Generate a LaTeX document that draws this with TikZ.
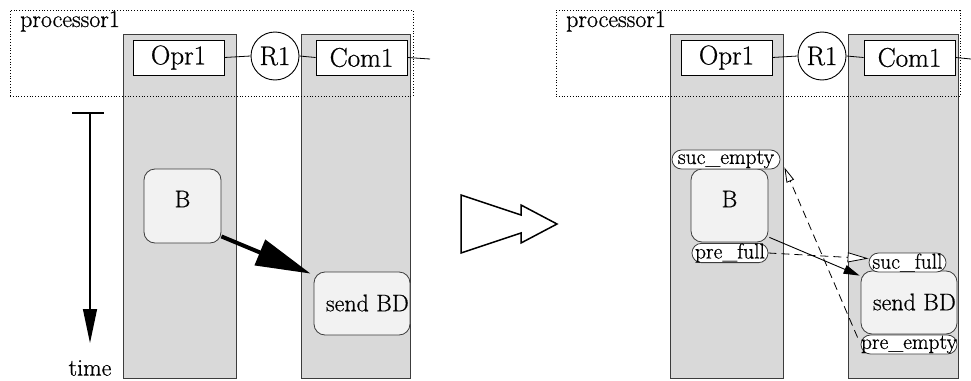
\documentclass[tikz,border=0pt]{standalone}
\usepackage{fontspec}
\newfontfamily\tms{Latin Modern Roman}[FakeBold=0.7]
\usetikzlibrary{arrows.meta,calc}
\definecolor{lanegray}{RGB}{217,217,217}
\definecolor{boxgray}{RGB}{242,242,242}
\definecolor{edgegray}{RGB}{60,60,60}
\begin{document}
\begin{tikzpicture}[x=1pt,y=-1pt,
  lane/.style={draw=edgegray, fill=lanegray, line width=0.9pt, minimum width=#1, minimum height=344pt, inner sep=0pt},
  unit/.style={draw, fill=white, line width=0.9pt, minimum width=91pt, minimum height=35pt, inner sep=0pt, font=\tms\fontsize{27}{28}\selectfont},
  reg/.style={draw, fill=white, circle, line width=0.9pt, minimum size=48pt, inner sep=0pt, font=\tms\fontsize{27}{28}\selectfont},
  proc/.style={draw, dotted, line width=0.8pt, minimum width=#1, minimum height=86pt, inner sep=0pt},
  task/.style={draw=edgegray, fill=boxgray, line width=0.8pt, rounded corners=11pt, inner sep=0pt},
  tag/.style={draw=edgegray, fill=white, line width=0.8pt, rounded corners=9.5pt, minimum height=19pt, inner sep=0pt, font=\tms\fontsize{21.5}{22}\selectfont},
  lbl/.style={inner sep=0pt, font=\tms\fontsize{24}{25}\selectfont},
  wire/.style={line width=0.8pt},
  dsh/.style={line width=0.8pt, dash pattern=on 8pt off 5pt}
]
\useasboundingbox (0,0) rectangle (971,380);

% ---------------- left panel ----------------
\node[lane=113pt] (lO) at (179.5,206) {};
\node[lane=109pt] (lC) at (355.5,206) {};
\node[proc=403pt] (P1) at (211.5,53) {};
\node[lbl, anchor=base west] (p1t) at (20,27) {processor1};
\node[unit] (O1) at (178.5,57.5) {Opr1};
\node[reg] (R1) at (275,56) {R1};
\node[unit] (C1) at (361.5,57.5) {Com1};
\coordinate (c1out) at (430,59);
\draw[wire] (O1.east) -- (R1.west);
\draw[wire] (R1.east) -- (C1.west);
\draw[wire] (C1.east) -- (c1out);

\node[task, minimum width=77pt, minimum height=74pt] (B1) at (182.5,206) {};
\node[lbl] at (182.5,199) {B};
\node[task, minimum width=96pt, minimum height=63pt] (S1) at (362,303.5) {};
\node[lbl, anchor=east] at (409,303) {send BD};
\draw[line width=4pt, -{Triangle[length=55pt,width=27pt]}]
  ($(B1.south east)+(0,-7)$) -- ($(S1.north west)+(-3,2)$);

\coordinate (ttop) at (90,113);
\coordinate (tbot) at (90,343);
\draw[line width=1.3pt] ($(ttop)+(-18,0)$) -- ($(ttop)+(14,0)$);
\draw[line width=1.3pt, -{Triangle[length=34pt,width=14pt]}] (ttop) -- (tbot);
\node[lbl] (time) at (90,368) {time};

% ---------------- transformation arrow ----------------
\draw[line width=1.5pt, line join=miter]
  (461,195) -- (521,215) -- (521,205) -- (557,224) -- (521,243) -- (521,233) -- (461,253) -- cycle;

% ---------------- right panel ----------------
\node[lane=113pt] (lO2) at (726.5,206) {};
\node[lane=110pt] (lC2) at (903,206) {};
\node[proc=404pt] (P2) at (758,53.5) {};
\node[lbl, anchor=base west] (p2t) at (566,27) {processor1};
\node[unit] (O2) at (726.5,57.5) {Opr1};
\node[reg] (R2) at (822,56) {R1};
\node[unit] (C2) at (909.5,57.5) {Com1};
\coordinate (c2out) at (971,59);
\draw[wire] (O2.east) -- (R2.west);
\draw[wire] (R2.east) -- (C2.west);
\draw[wire] (C2.east) -- (c2out);

\node[task, minimum width=77pt, minimum height=73pt] (B2) at (729.5,205.5) {};
\node[lbl] at (729.5,199) {B};
\node[tag, minimum width=108pt] (se) at (726,159.5) {suc\_empty};
\node[tag, minimum width=76pt] (pf) at (730,253) {pre\_full};
\node[task, minimum width=96pt, minimum height=63pt] (S2) at (909,302.5) {};
\node[lbl, anchor=east] at (956,302) {send BD};
\node[tag, minimum width=77pt] (sf) at (907.5,262.5) {suc\_full};
\node[tag, minimum width=96pt] (pe) at (909,344.5) {pre\_empty};

\draw[line width=0.9pt, -{Triangle[length=16pt,width=9pt]}]
  ($(B2.south east)+(1,-5)$) -- ($(S2.north west)+(-1,5)$);
\draw[dsh, -{Triangle[length=21pt,width=10pt,fill=white]}]
  (pf.east) -- ($(sf.west)+(0,-4)$);
\draw[dsh, -{Triangle[length=15pt,width=8pt,fill=white]}]
  ($(pe.west)+(-3,-7)$) -- ($(se.south east)+(4,-2)$);
\end{tikzpicture}
\end{document}
